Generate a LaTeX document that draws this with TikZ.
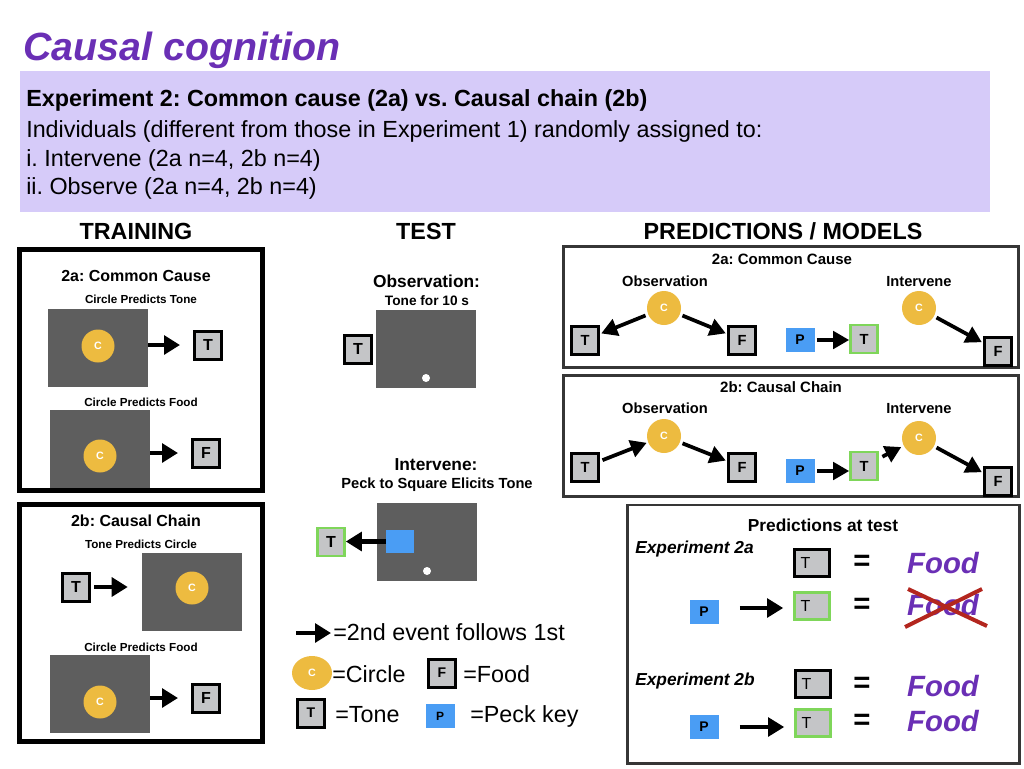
\documentclass[tikz,border=0pt]{standalone}
\usepackage{fontspec}
\setmainfont{Liberation Sans}
\usetikzlibrary{arrows.meta,shapes.geometric}

\definecolor{titlepurple}{HTML}{6A2FB5}
\definecolor{lavender}{HTML}{D6CBF9}
\definecolor{screengray}{HTML}{5E5E5E}
\definecolor{keygray}{HTML}{C4C5C7}
\definecolor{cueyellow}{HTML}{EDBB40}
\definecolor{tonegreen}{HTML}{7FD65A}
\definecolor{peckblue}{HTML}{4A9DF4}
\definecolor{framedark}{HTML}{363636}
\definecolor{crossred}{HTML}{B3261E}

\newcommand{\fsz}[1]{\fontsize{#1pt}{#1pt}\selectfont}
\frenchspacing

\begin{document}
\begin{tikzpicture}[x=0.75pt,y=-0.75pt,
  txt/.style={inner sep=0pt,anchor=base},
  ltxt/.style={inner sep=0pt,anchor=base west},
  screen/.style={rectangle,fill=screengray,inner sep=0pt,minimum width=75pt,minimum height=58.5pt},
  cue/.style={circle,fill=cueyellow,inner sep=0pt,minimum size=24.75pt,text=white,font=\bfseries\fsz{8}},
  pcue/.style={cue,minimum size=25.5pt},
  keybox/.style={rectangle,draw=black,line width=2.25pt,fill=keygray,inner sep=0pt,
    minimum width=20.25pt,minimum height=21pt,font=\bfseries\fsz{11}},
  greenbox/.style={keybox,draw=tonegreen,line width=2pt},
  widebox/.style={keybox,minimum width=26.25pt,minimum height=20.25pt,font=\fsz{12}},
  widegreen/.style={widebox,draw=tonegreen,line width=2pt},
  peck/.style={rectangle,fill=peckblue,inner sep=0pt,minimum width=21.75pt,minimum height=18pt,
    font=\bfseries\fsz{10.5}},
  spot/.style={circle,fill=white,inner sep=0pt,minimum size=6pt},
  arr/.style={line width=3.2pt,-{Triangle[length=12pt,width=14pt]}},
  parr/.style={line width=2.8pt,-{Triangle[length=12pt,width=13pt]}},
  frame/.style={line width=3.4pt,draw=black},
  pframe/.style={line width=2pt,draw=framedark},
  eqs/.style={inner sep=0pt,font=\bfseries\fsz{22}},
  food/.style={txt,text=titlepurple,font=\bfseries\itshape\fsz{22}}
]
\useasboundingbox (0,0) rectangle (1024,768);

% ---------- title and header box ----------
\node[ltxt,text=titlepurple,font=\bfseries\itshape\fsz{29.5}] (title) at (23,60) {Causal cognition};
\fill[lavender] (20,71) rectangle (990,212);
\node[ltxt,font=\bfseries\fsz{17.5}] (h1) at (26,106) {Experiment 2: Common cause (2a) vs. Causal chain (2b)};
\node[ltxt,font=\fsz{17.5}] (h2) at (26,137) {Individuals (different from those in Experiment 1) randomly assigned to:};
\node[ltxt,font=\fsz{17.5}] (h3) at (26,166) {i. Intervene (2a n=4, 2b n=4)};
\node[ltxt,font=\fsz{17.5}] (h4) at (26,194) {ii. Observe (2a n=4, 2b n=4)};

% ---------- column headings ----------
\node[txt,font=\bfseries\fsz{17.5}] (trainhd) at (136,239) {TRAINING};
\node[txt,font=\bfseries\fsz{17.5}] (testhd) at (426,239) {TEST};
\node[txt,font=\bfseries\fsz{17.5}] (predhd) at (783,239) {PREDICTIONS / MODELS};

% ---------- training: common cause ----------
\draw[frame] (19.5,249.5) rectangle (262.5,490.5);
\node[txt,font=\bfseries\fsz{12}] (tra) at (136,281) {2a: Common Cause};
\node[txt,font=\bfseries\fsz{8.75}] (tra1) at (141,303) {Circle Predicts Tone};
\node[screen] (scr1) at (98,348) {};
\node[cue] (c1) at (98,346) {C};
\node[keybox,font=\bfseries\fsz{12}] (t1) at (208,345) {T};
\draw[arr,shorten >=9.75pt] (scr1.east |- t1) -- (t1.west);
\node[txt,font=\bfseries\fsz{8.75}] (tra2) at (141,406) {Circle Predicts Food};
\node[screen] (scr2) at (100,449) {};
\node[cue] (c2) at (100,456) {C};
\node[keybox,font=\bfseries\fsz{12}] (f1) at (206,453) {F};
\draw[arr,shorten >=9.75pt] (scr2.east |- f1) -- (f1.west);

% ---------- training: causal chain ----------
\draw[frame] (19.5,504.5) rectangle (262.5,741.5);
\node[txt,font=\bfseries\fsz{12}] (trb) at (136,526) {2b: Causal Chain};
\node[txt,font=\bfseries\fsz{8.75}] (trb1) at (141,548) {Tone Predicts Circle};
\node[keybox,font=\bfseries\fsz{12}] (t2) at (76,587) {T};
\node[screen] (scr3) at (192,591.5) {};
\node[cue] (c3) at (192,588) {C};
\draw[arr,shorten <=2.25pt,shorten >=10.5pt] (t2.east) -- (t2.east -| scr3.west);
\node[txt,font=\bfseries\fsz{8.75}] (trb2) at (141,651) {Circle Predicts Food};
\node[screen] (scr4) at (100,694) {};
\node[cue] (c4) at (100,702) {C};
\node[keybox,font=\bfseries\fsz{12}] (f2) at (206,698) {F};
\draw[arr,shorten >=9.75pt] (scr4.east |- f2) -- (f2.west);

% ---------- test ----------
\node[txt,font=\bfseries\fsz{13}] (obs) at (426.5,287) {Observation:};
\node[txt,font=\bfseries\fsz{10.25}] (obs1) at (427,305) {Tone for 10 s};
\node[screen] (scr5) at (426,349) {};
\node[spot] (dot1) at (426,378) {};
\node[keybox,font=\bfseries\fsz{12}] (t3) at (358,349) {T};
\node[txt,font=\bfseries\fsz{13}] (int) at (436,470) {Intervene:};
\node[txt,font=\bfseries\fsz{11}] (int1) at (437,488) {Peck to Square Elicits Tone};
\node[screen] (scr6) at (427,541.5) {};
\node[rectangle,fill=peckblue,inner sep=0pt,minimum width=21pt,minimum height=17.5pt] (sq) at (400,541.5) {};
\node[spot] (dot2) at (427,571) {};
\node[greenbox,font=\bfseries\fsz{12}] (g1) at (331,542) {T};
\draw[arr] (sq.west) -- (g1.east |- sq.west);

% ---------- legend ----------
\coordinate (la) at (296,633);
\coordinate (lb) at (331,633);
\draw[arr] (la) -- (lb);
\node[ltxt,font=\fsz{17.5}] (l1) at (333,640) {=2nd event follows 1st};
\node[ellipse,fill=cueyellow,inner sep=0pt,minimum width=30pt,minimum height=25.5pt,
  text=white,font=\bfseries\fsz{8}] (lc) at (312,673) {C};
\node[ltxt,font=\fsz{17.5}] (l2) at (332,682) {=Circle};
\node[keybox,font=\bfseries\fsz{10.5}] (lf) at (442,673) {F};
\node[ltxt,font=\fsz{17.5}] (l3) at (463,682) {=Food};
\node[keybox,font=\bfseries\fsz{10.5}] (lt) at (311,713) {T};
\node[ltxt,font=\fsz{17.5}] (l4) at (335,722) {=Tone};
\node[peck,font=\bfseries\fsz{9}] (lp) at (440,716) {\raisebox{-2pt}{P}};
\node[ltxt,font=\fsz{17.5}] (l5) at (470,722) {=Peck key};

% ---------- models: common cause ----------
\draw[pframe] (563.5,246.5) rectangle (1018.5,367.5);
\node[txt,font=\bfseries\fsz{11.25}] (ma) at (782,264) {2a: Common Cause};
\node[txt,font=\bfseries\fsz{11}] (ma1) at (665,286) {Observation};
\node[txt,font=\bfseries\fsz{11}] (ma2) at (919,286) {Intervene};
\node[pcue] (co1) at (664,308) {C};
\node[keybox] (pt1) at (585,340) {T};
\node[keybox] (pf1) at (742,340) {F};
\draw[parr,shorten <=2pt,shorten >=1pt] (co1) -- (pt1);
\draw[parr,shorten <=2pt,shorten >=1pt] (co1) -- (pf1);
\node[peck] (pp1) at (800,340) {\raisebox{-3pt}{P}};
\node[greenbox] (pg1) at (864,339) {T};
\draw[parr,shorten <=1.5pt] (pp1.east) -- (pg1.west |- pp1.east);
\node[pcue] (co2) at (919,308) {C};
\node[keybox] (pf2) at (998,351) {F};
\draw[parr,shorten <=2pt,shorten >=1pt] (co2) -- (pf2);

% ---------- models: causal chain ----------
\draw[pframe] (563.5,375.5) rectangle (1018.5,496.5);
\node[txt,font=\bfseries\fsz{11.25}] (mb) at (781,392) {2b: Causal Chain};
\node[txt,font=\bfseries\fsz{11}] (mb1) at (665,413) {Observation};
\node[txt,font=\bfseries\fsz{11}] (mb2) at (919,413) {Intervene};
\node[pcue] (co3) at (664,436) {C};
\node[keybox] (pt2) at (585,467) {T};
\node[keybox] (pf3) at (742,467) {F};
\draw[parr,shorten <=2pt,shorten >=1pt] (pt2) -- (co3);
\draw[parr,shorten <=2pt,shorten >=1pt] (co3) -- (pf3);
\node[peck] (pp2) at (800,471) {\raisebox{-3pt}{P}};
\node[greenbox] (pg2) at (864,466) {T};
\draw[parr,shorten <=1.5pt] (pp2.east) -- (pg2.west |- pp2.east);
\node[pcue] (co4) at (919,438) {C};
\node[keybox] (pf4) at (998,481) {F};
\draw[parr,shorten <=3pt,shorten >=2pt] (pg2) -- (co4);
\draw[parr,shorten <=2pt,shorten >=1pt] (co4) -- (pf4);

% ---------- predictions at test ----------
\draw[pframe] (627.5,505) rectangle (1019.5,763.5);
\node[txt,font=\bfseries\fsz{13}] (pr) at (823,531) {Predictions at test};
\node[ltxt,font=\bfseries\itshape\fsz{13}] (ex1) at (635,553) {Experiment 2a};
\node[widebox] (q1) at (812,563) {\makebox[17pt][l]{T}};
\node[eqs] (eq1) at (862,563) {=};
\node[food] (fd1) at (943,573) {Food};
\node[peck] (qp1) at (704,612) {\raisebox{-3pt}{P}};
\node[widegreen] (qg1) at (812,606) {\makebox[17pt][l]{T}};
\draw[arr,line width=2.6pt,shorten <=15.75pt,shorten >=7.5pt] (qp1.east |- 0,608) -- (qg1.west |- 0,608);
\node[eqs] (eq2) at (862,606) {=};
\node[food] (fd2) at (943,615) {Food};
\coordinate (x1a) at (905,627);
\coordinate (x1b) at (982,589);
\coordinate (x2a) at (908,589);
\coordinate (x2b) at (987,626);
\draw[crossred,line width=3pt] (x1a) -- (x1b);
\draw[crossred,line width=3pt] (x2a) -- (x2b);
\node[ltxt,font=\bfseries\itshape\fsz{13}] (ex2) at (635,685) {Experiment 2b};
\node[widebox] (q2) at (813,684) {\makebox[17pt][l]{T}};
\node[eqs] (eq3) at (862,685) {=};
\node[food] (fd3) at (943,696) {Food};
\node[peck] (qp2) at (704,727) {\raisebox{-3pt}{P}};
\node[widegreen] (qg2) at (813,723) {\makebox[17pt][l]{T}};
\draw[arr,line width=2.6pt,shorten <=15.75pt,shorten >=7.5pt] (qp2.east) -- (qg2.west |- qp2.east);
\node[eqs] (eq4) at (862,722) {=};
\node[food] (fd4) at (943,731) {Food};
\end{tikzpicture}
\end{document}
